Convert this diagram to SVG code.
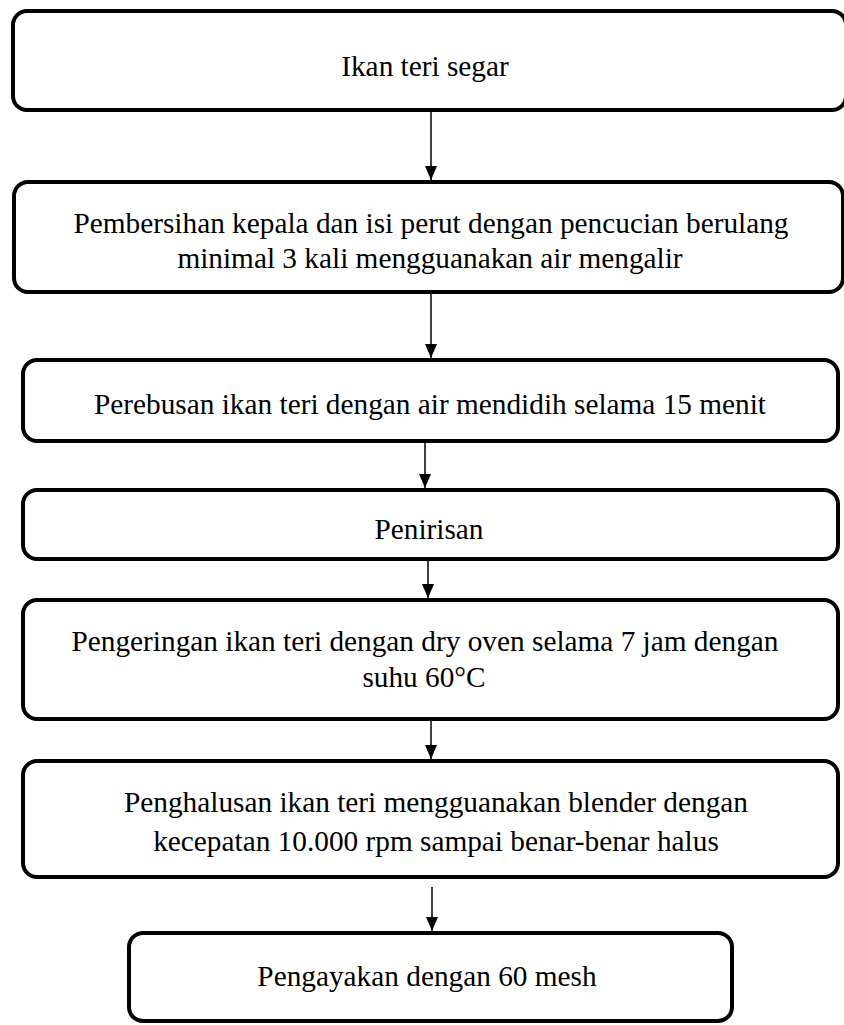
<svg xmlns="http://www.w3.org/2000/svg" width="844" height="1025" viewBox="0 0 844 1025">
<style>
.box{fill:#fff;stroke:#000;stroke-width:4}
.t{font-family:"Times New Roman","Liberation Serif",Tinos,"DejaVu Serif",serif;font-size:29.3px;fill:#000;text-anchor:middle}
.c{stroke:#000;stroke-width:1.5;fill:none}
</style>
<defs>
<marker id="ah" markerWidth="14" markerHeight="12" refX="14" refY="6" orient="auto" markerUnits="userSpaceOnUse" viewBox="0 0 14 12">
<path d="M0,0 L14,6 L0,12 Z" fill="#000"/>
</marker>
</defs>
<rect width="844" height="1025" fill="#fff"/>
<g id="connectors">
<line class="c" x1="431" y1="112" x2="431" y2="180" marker-end="url(#ah)"/>
<line class="c" x1="431" y1="294" x2="431" y2="358" marker-end="url(#ah)"/>
<line class="c" x1="425" y1="443" x2="425" y2="488" marker-end="url(#ah)"/>
<line class="c" x1="428" y1="561" x2="428" y2="598" marker-end="url(#ah)"/>
<line class="c" x1="431" y1="721" x2="431" y2="759" marker-end="url(#ah)"/>
<line class="c" x1="432" y1="887" x2="432" y2="931" marker-end="url(#ah)"/>
</g>
<g id="n1">
<rect class="box" x="13" y="11" width="833" height="99" rx="14"/>
<text class="t" x="425" y="76">Ikan teri segar</text>
</g>
<g id="n2">
<rect class="box" x="14" y="182" width="829" height="110" rx="14"/>
<text class="t" x="431" y="233">Pembersihan kepala dan isi perut dengan pencucian berulang</text>
<text class="t" x="430" y="268">minimal 3 kali mengguanakan air mengalir</text>
</g>
<g id="n3">
<rect class="box" x="23" y="360" width="815" height="81" rx="14"/>
<text class="t" x="430" y="414">Perebusan ikan teri dengan air mendidih selama 15 menit</text>
</g>
<g id="n4">
<rect class="box" x="23" y="490" width="815" height="69" rx="14"/>
<text class="t" x="429" y="539">Penirisan</text>
</g>
<g id="n5">
<rect class="box" x="23" y="600" width="815" height="119" rx="14"/>
<text class="t" x="425" y="651">Pengeringan ikan teri dengan dry oven selama 7 jam dengan</text>
<text class="t" x="424" y="687">suhu 60°C</text>
</g>
<g id="n6">
<rect class="box" x="23" y="761" width="815" height="116" rx="14"/>
<text class="t" x="436" y="812">Penghalusan ikan teri mengguanakan blender dengan</text>
<text class="t" x="436" y="851">kecepatan 10.000 rpm sampai benar-benar halus</text>
</g>
<g id="n7">
<rect class="box" x="129" y="933" width="603" height="88" rx="14"/>
<text class="t" x="427" y="986">Pengayakan dengan 60 mesh</text>
</g>
</svg>
